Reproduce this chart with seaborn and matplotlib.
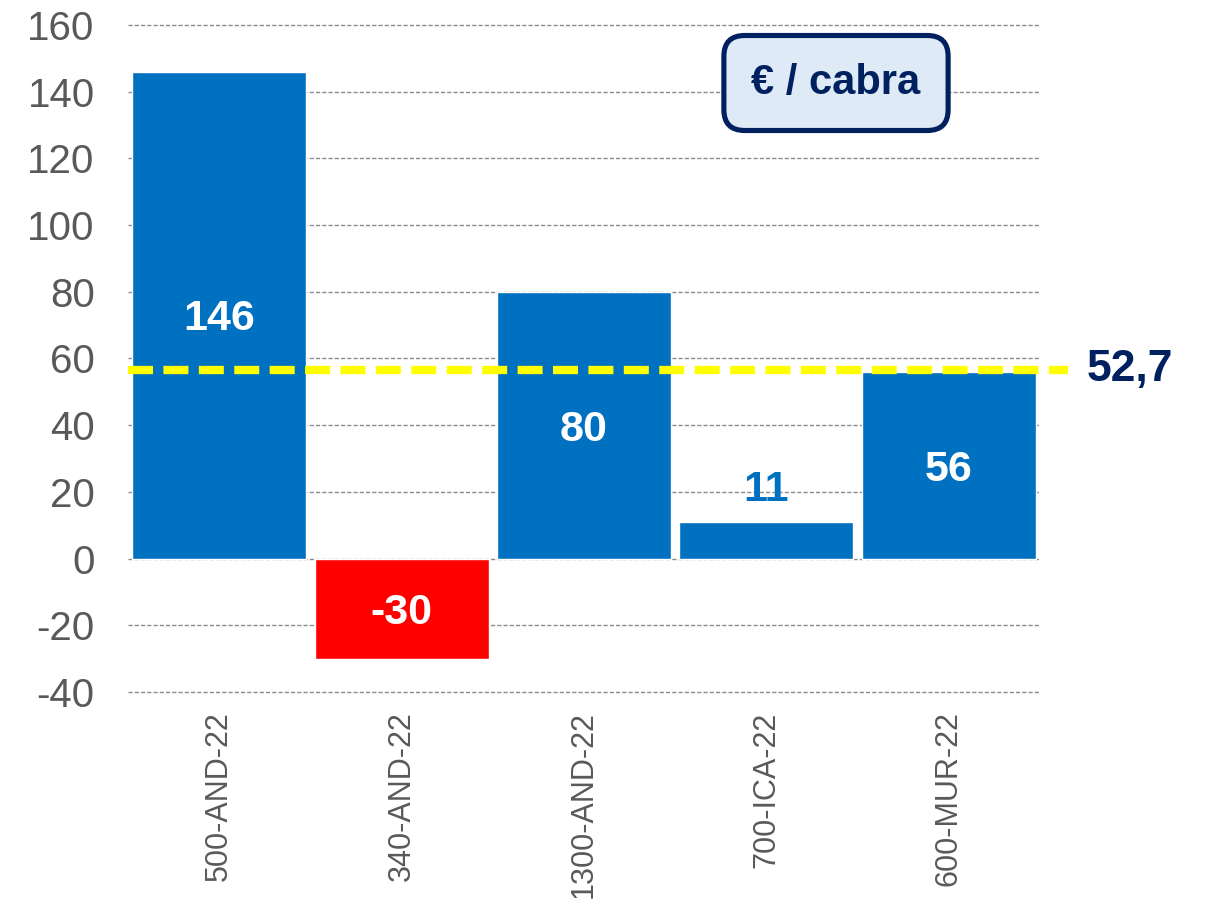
import matplotlib
matplotlib.use("Agg")
import matplotlib.pyplot as plt
import seaborn as sns
import pandas as pd

categories = ["500-AND-22", "340-AND-22", "1300-AND-22", "700-ICA-22", "600-MUR-22"]
values = [146, -30, 80, 11, 56]
value_labels = ["146", "-30", "80", "11", "56"]
avg_label = "52,7"
avg_line_value = 56.7
unit_label = "€ / cabra"
yticks = [-40, -20, 0, 20, 40, 60, 80, 100, 120, 140, 160]

BLUE = "#0070C0"
RED = "#FF0000"
NAVY = "#002060"
GREY = "#595959"

sns.set_theme(style="white")
plt.rcParams['font.family'] = ['Liberation Sans', 'DejaVu Sans']

df = pd.DataFrame({"cat": categories, "val": values})
colors = [RED if v < 0 else BLUE for v in values]

fig = plt.figure(figsize=(12.09, 9.05), dpi=100)
ax = fig.add_axes([128/1209, 1-692/905, 912/1209, 667/905])

sns.barplot(data=df, x="cat", y="val", hue="cat", palette=colors, width=0.955,
            legend=False, ax=ax, saturation=1, zorder=3)

ax.set_ylim(-40, 160)
ax.set_xlim(-0.5, len(categories)-0.5)
ax.set_yticks(yticks)
ax.set_yticklabels([str(t) for t in yticks], fontsize=29, color=GREY)
ax.tick_params(axis='y', length=0, pad=24)
ax.tick_params(axis='x', length=0, pad=14)
ax.set_xticks(range(len(categories)))
ax.set_xticklabels(categories, rotation=90, fontsize=22, color=GREY)
ax.set_xlabel("")
ax.set_ylabel("")
for s in ax.spines.values():
    s.set_visible(False)
ax.set_axisbelow(True)
for t in yticks:
    ax.axhline(t, color="#8c8c8c", linestyle=(0, (3, 1.5)), linewidth=1.0,
               zorder=0, clip_on=False)

# average line
ax.axhline(avg_line_value, xmin=0, xmax=(1068-128)/912, color="#FFFF00",
           linewidth=6, linestyle=(0, (3, 1.25)), clip_on=False, zorder=5)
ax.text((1087-128)/912, avg_line_value, avg_label, transform=ax.get_yaxis_transform(),
        fontsize=32, fontweight='bold', color=NAVY, ha='left', va='center')

# value labels
for i, (v, lab) in enumerate(zip(values, value_labels)):
    if abs(v) < 20:
        ax.text(i, v + 9.7, lab, ha='center', va='center', fontsize=31,
                fontweight='bold', color=BLUE, zorder=6)
    else:
        ax.text(i, v / 2 - 1.3, lab, ha='center', va='center', fontsize=31,
                fontweight='bold', color='white', zorder=6)

# unit box
fig.text(836/1209, 1-83/905, unit_label, ha='center', va='center', fontsize=30,
         fontweight='bold', color=NAVY,
         bbox=dict(boxstyle="round,pad=0.66,rounding_size=0.5", facecolor="#DEEAF6",
                   edgecolor=NAVY, linewidth=3.7))

fig.savefig("out.png", dpi=100, facecolor='white')
